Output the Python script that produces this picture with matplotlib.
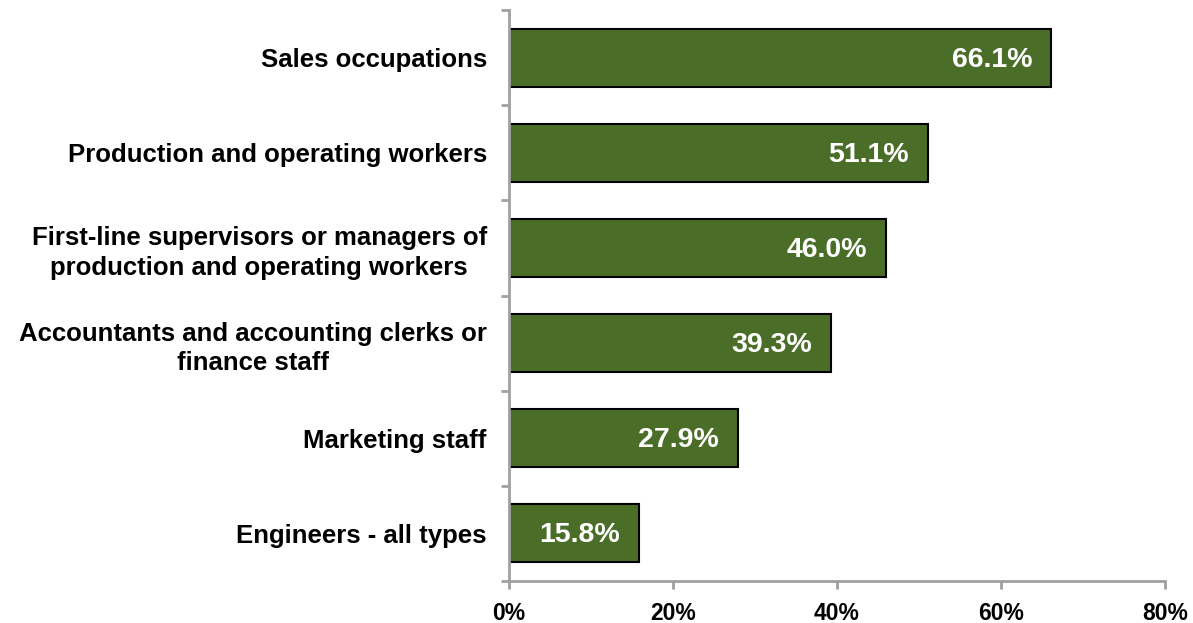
import matplotlib.pyplot as plt
from matplotlib.ticker import FuncFormatter

plt.rcParams['font.family'] = ['Liberation Sans', 'DejaVu Sans']

kategorie = ["Engineers - all types",
             "Marketing staff",
             "Accountants and accounting clerks or\nfinance staff",
             "First-line supervisors or managers of\nproduction and operating workers",
             "Production and operating workers",
             "Sales occupations"]
wartosci = [15.8, 27.9, 39.3, 46.0, 51.1, 66.1]
x_ticki = [0, 20, 40, 60, 80]

fig = plt.figure(figsize=(11.93, 6.23), dpi=100)
ax = fig.add_axes([509 / 1193, 1 - 581 / 623, (1165 - 509) / 1193, 571 / 623])

pozycje = range(len(kategorie))
ax.barh(pozycje, wartosci, height=0.61, color='#4A6E27', edgecolor='black', linewidth=1.5)

# etykiety wartosci wewnatrz slupkow
for y, v in zip(pozycje, wartosci):
    ax.annotate(f"{v:.1f}%", xy=(v, y), xytext=(-19, -2), textcoords='offset pixels',
                ha='right', va='center', color='white', fontsize=20.5, fontweight='bold')

ax.set_xlim(0, 80)
ax.set_ylim(-0.5, len(kategorie) - 0.5)
ax.set_xticks(x_ticki)
ax.xaxis.set_major_formatter(FuncFormatter(lambda v, p: f"{v:.0f}%"))
ax.set_yticks([i - 0.5 for i in range(len(kategorie) + 1)])
ax.set_yticklabels([])
ax.set_yticks(list(pozycje), minor=True)
ax.set_yticklabels(kategorie, minor=True, fontsize=18.5, fontweight='bold', ha='right',
                   multialignment='center', linespacing=1.3)
ax.tick_params(axis='y', which='minor', length=0, pad=16)
ax.tick_params(axis='y', which='major', length=6, width=2, color='#A0A0A0', direction='out')
ax.tick_params(axis='x', length=6, width=2, color='#A0A0A0', direction='out', pad=9)
for lab in ax.get_xticklabels():
    lab.set_fontweight('bold')
    lab.set_fontsize(16.5)

for s in ['top', 'right']:
    ax.spines[s].set_visible(False)
for s in ['left', 'bottom']:
    ax.spines[s].set_color('#A0A0A0')
    ax.spines[s].set_linewidth(2)

fig.savefig("out.png", dpi=100)
